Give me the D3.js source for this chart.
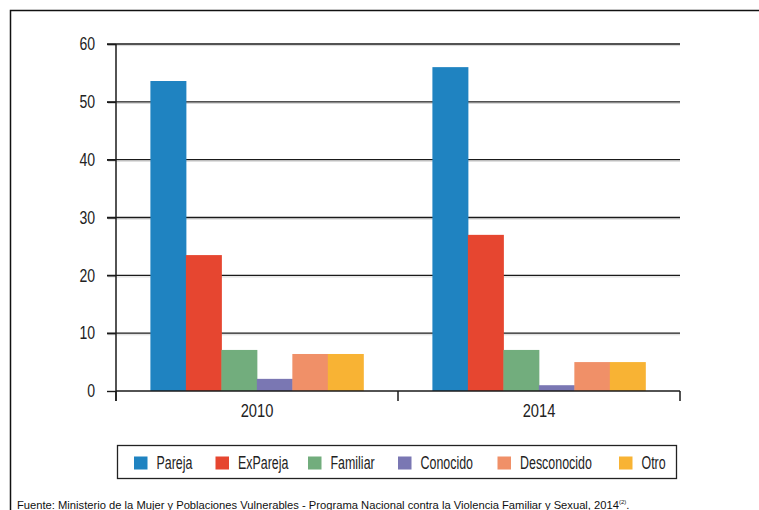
<!DOCTYPE html>
<html><head><meta charset="utf-8">
<script src="https://cdn.jsdelivr.net/npm/d3@7"></script>
<style>
html,body{margin:0;padding:0;background:#fff;}
svg{display:block;}
</style></head>
<body>
<svg id="chart" width="759" height="510"></svg>
<script>
const years = ["2010", "2014"];
const categories = ["Pareja", "ExPareja", "Familiar", "Conocido", "Desconocido", "Otro"];
const colors = ["#1f83c1", "#e64630", "#72ad7d", "#7a77b3", "#f09068", "#f8b334"];
const values2010 = [53.6, 23.5, 7.1, 2.1, 6.4, 6.4];
const values2014 = [56.0, 27.0, 7.1, 1.0, 5.0, 5.0];
const yTicks = [0, 10, 20, 30, 40, 50, 60];
const sourceText = "Fuente: Ministerio de la Mujer y Poblaciones Vulnerables - Programa Nacional contra la Violencia Familiar y Sexual, 2014";
const series = {"2010": values2010, "2014": values2014};

(function () {
const svg = d3.select("#chart");
const font = "'Liberation Sans',Arial,sans-serif";

function condense(sel, f) {
  sel.each(function () {
    const n = this.getComputedTextLength();
    d3.select(this).attr("textLength", n * f).attr("lengthAdjust", "spacingAndGlyphs");
  });
}

// frame
svg.append("path").attr("d", "M10.5,520 L10.5,10.5 L770,10.5").attr("fill", "none").attr("stroke", "#111").attr("stroke-width", 1.5);

const pLeft = 116, pRight = 680, pTop = 44, pBottom = 391;
const y = d3.scaleLinear().domain([0, 60]).range([pBottom, pTop]);
const x0 = d3.scaleBand().domain(years).range([pLeft, pRight]).padding(0);
const bw = x0.bandwidth();
const x1 = d3.scaleBand().domain(categories).range([bw * 0.122, bw * 0.877]).padding(0);

// gridlines
const grid = svg.append("g");
grid.selectAll("line.sh").data(yTicks.filter(d => d > 0)).join("line")
  .attr("x1", 108).attr("x2", pRight).attr("y1", d => y(d) + 1.6).attr("y2", d => y(d) + 1.6)
  .attr("stroke", "#d6d6d6").attr("stroke-width", 1);
grid.selectAll("line.g").data(yTicks.filter(d => d > 0)).join("line")
  .attr("x1", 107).attr("x2", pRight).attr("y1", d => y(d)).attr("y2", d => y(d))
  .attr("stroke", "#1a1a1a").attr("stroke-width", 1.4);

// bars
const groups = svg.append("g").selectAll("g").data(years).join("g")
  .attr("transform", d => `translate(${x0(d)},0)`);
groups.selectAll("rect").data(yr => categories.map((c, i) => ({c, i, v: series[yr][i]}))).join("rect")
  .attr("x", d => x1(d.c)).attr("width", x1.bandwidth() + 0.5)
  .attr("y", d => y(d.v)).attr("height", d => y(0) - y(d.v))
  .attr("fill", d => colors[d.i]);

// y axis
const yAxis = svg.append("g").attr("transform", `translate(${pLeft},0)`)
  .call(d3.axisLeft(y).tickValues(yTicks).tickSize(9).tickPadding(12).tickFormat(d3.format("d")));
yAxis.select(".domain").remove();
yAxis.selectAll(".tick line").attr("stroke", "#1a1a1a").attr("stroke-width", 1.4);
yAxis.selectAll("text").attr("font-family", font).attr("font-size", 18).attr("fill", "#222");
condense(yAxis.selectAll("text"), 0.78);
svg.append("line").attr("x1", pLeft).attr("x2", pLeft).attr("y1", pTop).attr("y2", pBottom + 10)
  .attr("stroke", "#1a1a1a").attr("stroke-width", 1.5);

// x axis
const xAxis = svg.append("g").attr("transform", `translate(0,${pBottom})`)
  .call(d3.axisBottom(x0).tickSize(0).tickPadding(14));
xAxis.select(".domain").remove();
xAxis.selectAll("text").attr("font-family", font).attr("font-size", 17.5).attr("fill", "#222");
condense(xAxis.selectAll("text"), 0.84);
svg.append("line").attr("x1", pLeft).attr("x2", pRight).attr("y1", pBottom).attr("y2", pBottom)
  .attr("stroke", "#1a1a1a").attr("stroke-width", 1.5);
const xt = [pLeft].concat(years.map(d => x0(d) + bw));
svg.append("g").selectAll("line").data(xt).join("line")
  .attr("x1", d => d).attr("x2", d => d).attr("y1", pBottom).attr("y2", pBottom + 10)
  .attr("stroke", "#1a1a1a").attr("stroke-width", 1.5);

// legend
svg.append("rect").attr("x", 117.5).attr("y", 445.5).attr("width", 559).attr("height", 33)
  .attr("fill", "none").attr("stroke", "#222").attr("stroke-width", 1.3);
const legX = [134, 215.5, 308, 398, 497.5, 619];
const leg = svg.append("g").selectAll("g").data(categories).join("g")
  .attr("transform", (d, i) => `translate(${legX[i]},0)`);
leg.append("rect").attr("x", 0).attr("y", 456.5).attr("width", 13.5).attr("height", 13)
  .attr("fill", (d, i) => colors[i]);
const lt = leg.append("text").attr("x", 22.5).attr("y", 469).text(d => d)
  .attr("font-family", font).attr("font-size", 17.5).attr("fill", "#222");
condense(lt, 0.71);

// source
const src = svg.append("text").attr("x", 17).attr("y", 508.5)
  .attr("font-family", "'Liberation Sans','Arial',sans-serif").attr("font-size", 11.2).attr("fill", "#111");
src.append("tspan").text(sourceText);
src.append("tspan").text("(2)").attr("font-size", 6).attr("dy", -5);
src.append("tspan").text(".").attr("dy", 5);
})();
</script>
</body></html>
